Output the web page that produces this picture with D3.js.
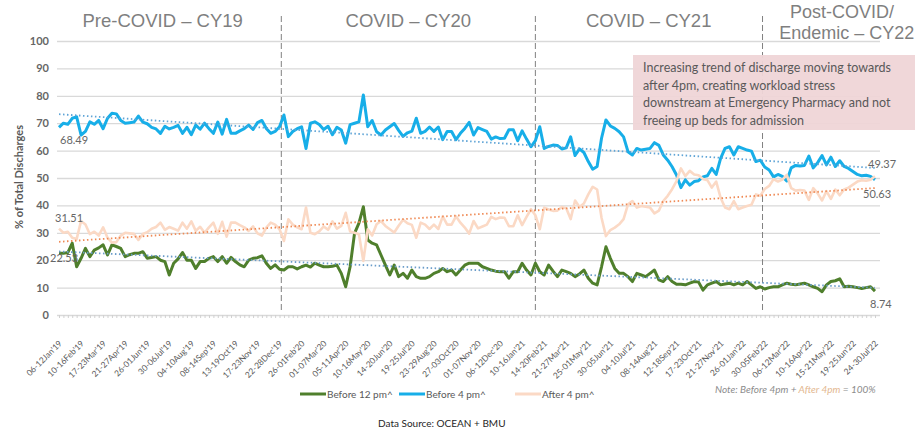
<!DOCTYPE html>
<html lang="en">
<head>
<meta charset="UTF-8">
<title>Discharge timing</title>
<script src="https://cdn.jsdelivr.net/npm/d3@7"></script>
<style>
    body { margin: 0; background: #fff; }
    text { font-family: Lato, "Open Sans", sans-serif; }
</style>
</head>
<body>
<script>
    var width = 915;
    var height = 430;

    // weekly % of total discharges, 06-12 Jan'19 .. 24-30 Jul'22
    var before12 = [
        22.53,22.5,22.8,26.2,17.6,20.7,24.3,21.3,23.7,24.5,
        25.6,21.9,25.6,25.0,24.3,21.3,22.0,22.5,22.5,23.1,
        20.7,21.0,21.3,20.0,19.5,14.6,18.9,20.5,22.8,20.0,
        20.0,17.0,19.5,19.5,20.7,21.3,19.5,21.3,18.9,21.0,
        19.5,18.3,17.6,20.0,20.7,20.9,21.6,18.9,17.0,18.3,
        16.7,16.4,17.6,17.6,16.8,17.6,18.2,17.5,18.9,18.2,
        17.6,17.6,17.8,18.2,15.2,10.3,17.6,29.8,33.5,39.5,
        27.4,26.2,25.6,21.9,18.2,14.6,18.2,14.0,15.2,13.4,
        16.4,14.0,13.4,13.4,14.0,15.2,15.8,17.0,15.8,16.4,
        14.6,16.4,18.2,18.9,18.9,18.9,17.6,17.0,16.4,16.0,
        15.8,15.8,13.4,15.8,15.8,18.9,16.4,14.6,18.9,15.8,
        14.6,18.2,16.0,14.0,16.4,15.8,15.2,14.0,15.0,16.4,
        13.4,11.6,11.0,17.6,24.9,20.7,17.0,15.2,15.2,14.0,
        12.2,15.2,14.6,14.0,15.2,16.4,12.8,12.2,14.0,12.2,
        11.2,11.2,11.0,11.6,12.2,12.0,9.1,11.0,11.6,12.2,
        11.0,11.3,11.6,11.0,11.6,11.0,12.2,11.0,9.7,10.3,
        9.5,10.0,10.3,10.3,11.0,11.6,11.2,11.0,11.3,11.6,
        11.0,10.3,9.7,8.5,11.0,12.2,12.5,13.2,10.3,10.5,
        10.3,10.0,9.7,10.0,10.3,8.74
    ];

    var before4 = [
        68.49,70.0,69.6,71.8,72.3,65.7,67.0,70.5,69.6,71.0,
        68.0,71.8,73.6,73.4,71.0,70.0,70.2,70.4,72.6,70.4,
        69.8,68.5,67.9,66.3,68.9,67.9,68.5,69.2,66.3,68.5,
        65.8,69.3,67.8,70.0,68.0,66.3,70.4,66.0,71.4,66.3,
        66.3,67.2,68.0,69.3,67.7,70.2,71.0,68.1,66.3,67.0,
        68.7,73.0,65.1,67.0,68.0,68.7,60.8,70.0,70.5,69.5,
        67.7,68.9,65.8,68.5,67.5,62.7,69.5,70.0,70.5,80.3,
        68.7,71.0,66.9,65.7,67.5,68.7,69.9,67.4,65.2,66.5,
        67.1,71.8,66.3,67.0,68.6,67.0,68.6,64.0,67.0,67.0,
        64.0,66.3,68.1,70.3,65.7,68.4,67.7,67.0,64.2,65.0,
        64.4,64.5,67.6,67.6,63.6,67.2,64.2,61.4,63.6,68.7,
        60.8,61.5,62.0,61.9,60.6,61.0,65.0,58.2,60.6,59.3,
        56.0,53.2,54.2,64.5,71.2,69.0,68.1,66.9,65.0,59.6,
        58.4,60.8,60.2,60.5,60.8,62.9,61.9,58.4,56.5,54.1,
        51.1,46.5,49.3,47.4,48.7,49.0,50.4,50.8,53.5,51.3,
        57.2,60.8,61.4,58.4,61.4,60.8,60.2,59.8,56.0,56.5,
        54.0,52.9,50.4,51.3,50.6,48.9,53.7,54.6,54.4,54.6,
        58.0,53.7,55.6,58.2,54.8,57.6,54.2,56.3,54.2,53.5,
        52.4,51.3,50.8,51.0,50.6,49.37
    ];

    var after4 = [
        31.51,30.0,30.4,28.2,27.7,34.3,33.0,29.5,30.4,29.0,
        32.0,28.2,26.4,26.6,29.0,30.0,29.8,29.6,27.4,29.6,
        30.2,31.5,32.1,33.7,31.1,32.1,31.5,30.8,33.7,31.5,
        34.2,30.7,32.2,30.0,32.0,33.7,29.6,34.0,28.6,33.7,
        33.7,32.8,32.0,30.7,32.3,29.8,29.0,31.9,33.7,33.0,
        31.3,27.0,34.9,33.0,32.0,31.3,39.2,30.0,29.5,30.5,
        32.3,31.1,34.2,31.5,32.5,37.3,30.5,30.0,29.5,19.7,
        31.3,29.0,33.1,34.3,32.5,31.3,30.1,32.6,34.8,33.5,
        32.9,28.2,33.7,33.0,31.4,33.0,31.4,36.0,33.0,33.0,
        36.0,33.7,31.9,29.7,34.3,31.6,32.3,33.0,35.8,35.0,
        35.6,35.5,32.4,32.4,36.4,32.8,35.8,38.6,36.4,31.3,
        39.2,38.5,38.0,38.1,39.4,39.0,35.0,41.8,39.4,40.7,
        44.0,46.8,45.8,35.5,28.8,31.0,31.9,33.1,35.0,40.4,
        41.6,39.2,39.8,39.5,39.2,37.1,38.1,41.6,43.5,45.9,
        48.9,53.5,50.7,52.6,51.3,51.0,49.6,49.2,46.5,48.7,
        42.8,39.2,38.6,41.6,38.6,39.2,39.8,40.2,44.0,43.5,
        46.0,47.1,49.6,48.7,49.4,51.1,46.3,45.4,45.6,45.4,
        42.0,46.3,44.4,41.8,45.2,42.4,45.8,43.7,45.8,46.5,
        47.6,48.7,49.2,49.0,49.4,50.63
    ];

    // one label every 5th week
    var tickLabels = [
        "06-12Jan'19","10-16Feb'19","17-23Mar'19","21-27Apr'19","26-01Jun'19",
        "30-06Jul'19","04-10Aug'19","08-14Sep'19","13-19Oct'19","17-23Nov'19",
        "22-28Dec'19","26-01Feb'20","01-07Mar'20","05-11Apr'20","10-16May'20",
        "14-20Jun'20","19-25Jul'20","23-29Aug'20","27-03Oct'20","01-07Nov'20",
        "06-12Dec'20","10-16Jan'21","14-20Feb'21","21-27Mar'21","25-01May'21",
        "30-05Jun'21","04-10Jul'21","08-14Aug'21","12-18Sep'21","17-23Oct'21",
        "21-27Nov'21","26-01Jan'22","30-05Feb'22","06-12Mar'22","10-16Apr'22",
        "15-21May'22","19-25Jun'22","24-30Jul'22"
    ];
    var yTicks = [0, 10, 20, 30, 40, 50, 60, 70, 80, 90, 100];

    var periodNames = ["Pre-COVID – CY19", "COVID – CY20", "COVID – CY21"];
    var periodWeeks = [23.5, 79.2, 133.7];   // centre of each title, in weeks
    var dividerWeeks = [50.4, 108, 159.5];   // dashed separators, in weeks

    var seriesNames = ["Before 12 pm^", "Before 4 pm^", "After 4 pm^"];
    var colors = ["#4f7f2c", "#17aee8", "#fbd9c5"];
    var trendColors = ["#6a9cc9", "#5fa4d6", "#ef8a55"];

    var note = ["Increasing trend of discharge moving towards",
                "after 4pm, creating workload stress",
                "downstream at Emergency Pharmacy and not",
                "freeing up beds for admission"];

    var svg = d3.select("body")
        .append("svg")
        .attr("width", width)
        .attr("height", height);

    var x = d3.scaleLinear().domain([0, before4.length - 1]).range([59, 875]);
    var y = d3.scaleLinear().domain([0, 100]).range([315, 41]);

    // grid + y labels
    var yAxis = svg.append("g")
        .attr("transform", "translate(57,0)")
        .call(d3.axisLeft(y).tickValues(yTicks).tickSize(-823).tickPadding(8));
    yAxis.select(".domain").remove();
    yAxis.selectAll("line").attr("stroke", "#d9d9d9").attr("stroke-width", 1.3);
    yAxis.selectAll("text")
        .attr("fill", "#666")
        .style("font-size", "11px")
        .style("font-weight", "bold");

    // minor week ticks along the bottom
    var weekAxis = svg.append("g")
        .attr("transform", "translate(0,315)")
        .call(d3.axisBottom(x).tickValues(d3.range(before4.length)).tickSize(3).tickFormat(""));
    weekAxis.select(".domain").remove();
    weekAxis.selectAll("line").attr("stroke", "#d0d0d0");

    // rotated week labels
    var xAxis = svg.append("g")
        .attr("transform", "translate(0,315)")
        .call(d3.axisBottom(x)
            .tickValues(d3.range(0, before4.length, 5))
            .tickSize(0)
            .tickFormat(function (d) { return tickLabels[d / 5]; }));
    xAxis.select(".domain").remove();
    xAxis.selectAll("text")
        .attr("x", 0).attr("y", 0).attr("dy", 0)
        .attr("transform", "translate(3,29) rotate(-45)")
        .style("text-anchor", "end")
        .style("font-size", "8.4px")
        .attr("fill", "#595959");

    // dashed period separators
    svg.selectAll(".divider")
        .data(dividerWeeks)
        .enter()
        .append("line")
        .attr("x1", function (d) { return x(d); })
        .attr("x2", function (d) { return x(d); })
        .attr("y1", 16)
        .attr("y2", 311)
        .attr("stroke", "#808080")
        .attr("stroke-width", 1)
        .attr("stroke-dasharray", "6,3");

    // period titles
    svg.selectAll(".period")
        .data(periodNames)
        .enter()
        .append("text")
        .attr("x", function (d, i) { return x(periodWeeks[i]); })
        .attr("y", 27)
        .attr("text-anchor", "middle")
        .attr("fill", "#7f7f7f")
        .style("font-family", "'Liberation Sans', Arial, sans-serif")
        .style("font-size", "18.5px")
        .text(function (d) { return d; });

    var post = svg.append("text")
        .attr("text-anchor", "middle")
        .attr("fill", "#7f7f7f")
        .style("font-family", "'Liberation Sans', Arial, sans-serif")
        .style("font-size", "18px");
    post.append("tspan").attr("x", x(177.5)).attr("y", 18).text("Post-COVID/");
    post.append("tspan").attr("x", x(178.6)).attr("y", 39).text("Endemic – CY22");

    // series lines
    var series = [before12, before4, after4];
    var line = d3.line()
        .x(function (d, i) { return x(i); })
        .y(function (d) { return y(d); });

    svg.selectAll(".series")
        .data(series)
        .enter()
        .append("path")
        .attr("d", line)
        .attr("fill", "none")
        .attr("stroke", function (d, i) { return colors[i]; })
        .attr("stroke-width", function (d, i) { return i == 2 ? 2.6 : 3; })
        .attr("stroke-linejoin", "round");

    // linear trendlines (least squares)
    function trend(vals) {
        var xs = d3.range(vals.length);
        var mx = d3.mean(xs), my = d3.mean(vals);
        var b = d3.sum(xs, function (i) { return (i - mx) * (vals[i] - my); }) /
                d3.sum(xs, function (i) { return (i - mx) * (i - mx); });
        var a = my - b * mx;
        return [[0, a], [vals.length - 1, a + b * (vals.length - 1)]];
    }
    svg.selectAll(".trend")
        .data(series)
        .enter()
        .append("path")
        .attr("d", function (d) {
            return d3.line().x(function (p) { return x(p[0]); }).y(function (p) { return y(p[1]); })(trend(d));
        })
        .attr("fill", "none")
        .attr("stroke", function (d, i) { return trendColors[i]; })
        .attr("stroke-width", 1.8)
        .attr("stroke-dasharray", "1.5,2.5");

    // first / last value labels
    var startOffsets = [[-9, 9], [1, 17], [-4, -7]];
    var endOffsets = [[-5, 17], [-7, -12], [-12, 22]];
    var fmt = d3.format(".2f");
    series.forEach(function (vals, i) {
        var last = vals.length - 1;
        svg.append("text")
            .attr("x", x(0) + startOffsets[i][0])
            .attr("y", y(vals[0]) + startOffsets[i][1])
            .attr("fill", "#666")
            .style("font-size", "11px")
            .text(fmt(vals[0]));
        svg.append("text")
            .attr("x", x(last) + endOffsets[i][0])
            .attr("y", y(vals[last]) + endOffsets[i][1])
            .attr("fill", "#666")
            .style("font-size", "11px")
            .text(fmt(vals[last]));
    });

    // annotation box
    svg.append("rect")
        .attr("x", 633).attr("y", 55)
        .attr("width", 290).attr("height", 75)
        .attr("fill", "#efd5d7")
        .attr("fill-opacity", 0.95);
    svg.selectAll(".note")
        .data(note)
        .enter()
        .append("text")
        .attr("x", 643)
        .attr("y", function (d, i) { return 72 + i * 17.5; })
        .attr("fill", "#595959")
        .style("font-size", "12.5px")
        .text(function (d) { return d; });

    // y axis title
    svg.append("text")
        .attr("transform", "translate(23,177) rotate(-90)")
        .attr("text-anchor", "middle")
        .attr("fill", "#595959")
        .style("font-size", "11px")
        .style("font-weight", "bold")
        .text("% of Total Discharges");

    // legend
    var legendX = [300, 399, 515];
    var legend = svg.selectAll(".legend")
        .data(seriesNames)
        .enter()
        .append("g")
        .attr("transform", function (d, i) { return "translate(" + legendX[i] + ",394)"; });
    legend.append("line")
        .attr("x2", 26)
        .attr("stroke", function (d, i) { return colors[i]; })
        .attr("stroke-width", 3);
    legend.append("text")
        .attr("x", 27)
        .attr("y", 4)
        .attr("fill", "#595959")
        .style("font-size", "10px")
        .text(function (d) { return d; });

    var sumNote = svg.append("text")
        .attr("x", 715)
        .attr("y", 393)
        .attr("fill", "#8c8c8c")
        .style("font-size", "10px")
        .style("font-style", "italic");
    sumNote.append("tspan").text("Note: Before 4pm + ");
    sumNote.append("tspan").attr("fill", "#e3b78f").text("After 4pm");
    sumNote.append("tspan").text(" = 100%");

    svg.append("text")
        .attr("x", 378)
        .attr("y", 427)
        .attr("fill", "#262626")
        .style("font-size", "10px")
        .text("Data Source: OCEAN + BMU");
</script>
</body>
</html>
